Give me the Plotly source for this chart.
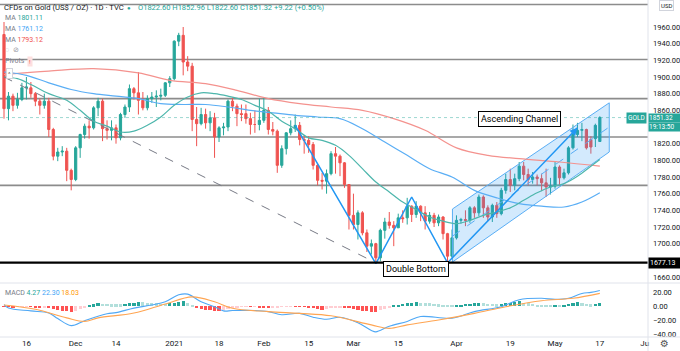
import plotly.graph_objects as go

# ---------------- data ----------------
tick_pos = [5, 16, 25, 38, 48, 58, 68, 78, 88, 101, 113, 123, 133, 143]
tick_text = ["16", "Dec", "14", "2021", "18", "Feb", "15", "Mar", "15", "Apr", "19", "May", "17", "Ju"]
price_ticks = [1660, 1700, 1720, 1740, 1760, 1780, 1800, 1820, 1860, 1880, 1900, 1920, 1940, 1960]
macd_ticks = [-40, -20, 0, 20]

opens = [1951, 1862, 1877, 1866, 1873, 1887, 1887, 1880, 1871, 1866,
         1871, 1837, 1805, 1810, 1811, 1788, 1777, 1815, 1831, 1841,
         1839, 1863, 1871, 1838, 1836, 1839, 1827, 1855, 1864, 1886,
         1881, 1872, 1863, 1874, 1876, 1877, 1878, 1893, 1898, 1943,
         1950, 1918, 1913, 1849, 1844, 1855, 1845, 1851, 1828, 1839,
         1840, 1871, 1865, 1856, 1856, 1850, 1843, 1843, 1848, 1860,
         1837, 1835, 1794, 1814, 1833, 1838, 1842, 1825, 1824, 1819,
         1794, 1776, 1775, 1784, 1808, 1805, 1797, 1771, 1734, 1723,
         1737, 1713, 1697, 1700, 1683, 1716, 1726, 1722, 1719, 1731,
         1731, 1745, 1735, 1745, 1737, 1727, 1734, 1725, 1732, 1712,
         1685, 1707, 1728, 1729, 1728, 1743, 1737, 1756, 1743, 1732,
         1746, 1736, 1764, 1777, 1770, 1778, 1793, 1783, 1777, 1780,
         1778, 1773, 1768, 1769, 1792, 1779, 1785, 1815, 1831, 1836,
         1837, 1825, 1826, 1822.60]
highs = [1966, 1882, 1880, 1881, 1893, 1900, 1894, 1882, 1874, 1880,
         1875, 1839, 1815, 1817, 1815, 1790, 1817, 1832, 1844, 1848,
         1865, 1875, 1874, 1848, 1848, 1843, 1857, 1867, 1891, 1888,
         1906, 1882, 1878, 1882, 1884, 1886, 1894, 1901, 1944, 1953,
         1960, 1925, 1917, 1864, 1863, 1862, 1859, 1857, 1841, 1845,
         1873, 1875, 1868, 1867, 1867, 1857, 1860, 1874, 1875, 1864,
         1846, 1837, 1818, 1834, 1848, 1855, 1846, 1830, 1829, 1822,
         1796, 1785, 1789, 1811, 1816, 1807, 1798, 1771, 1760, 1740,
         1739, 1717, 1705, 1701, 1718, 1731, 1738, 1727, 1736, 1740,
         1755, 1746, 1751, 1746, 1745, 1738, 1737, 1735, 1733, 1713,
         1717, 1734, 1731, 1740, 1745, 1745, 1759, 1758, 1746, 1748,
         1750, 1767, 1784, 1790, 1784, 1798, 1798, 1790, 1786, 1783,
         1784, 1790, 1779, 1799, 1794, 1790, 1817, 1843, 1845, 1845,
         1838, 1829, 1844, 1852.96]
lows = [1850, 1848, 1859, 1862, 1871, 1873, 1875, 1865, 1855, 1862,
        1828, 1800, 1799, 1805, 1775, 1764, 1775, 1803, 1826, 1826,
        1837, 1853, 1823, 1825, 1824, 1820, 1824, 1851, 1858, 1873,
        1855, 1860, 1860, 1869, 1864, 1872, 1876, 1888, 1896, 1937,
        1902, 1907, 1835, 1817, 1842, 1838, 1835, 1803, 1822, 1830,
        1835, 1859, 1841, 1847, 1844, 1831, 1833, 1836, 1845, 1831,
        1830, 1785, 1791, 1807, 1830, 1834, 1818, 1808, 1809, 1789,
        1770, 1765, 1760, 1782, 1784, 1781, 1767, 1717, 1717, 1705,
        1710, 1690, 1687, 1676, 1679, 1706, 1718, 1697, 1719, 1725,
        1723, 1726, 1731, 1727, 1717, 1724, 1720, 1721, 1705, 1677,
        1683, 1705, 1724, 1721, 1725, 1731, 1733, 1731, 1727, 1726,
        1731, 1734, 1760, 1762, 1764, 1775, 1776, 1770, 1772, 1770,
        1763, 1756, 1759, 1766, 1770, 1777, 1783, 1813, 1828, 1823,
        1813, 1808, 1816, 1822.60]
closes = [1862, 1877, 1866, 1873, 1887, 1888, 1880, 1871, 1866, 1871,
          1837, 1805, 1810, 1811, 1788, 1777, 1815, 1831, 1841, 1839,
          1863, 1871, 1838, 1836, 1839, 1827, 1855, 1864, 1886, 1881,
          1872, 1863, 1874, 1876, 1877, 1878, 1893, 1898, 1943, 1950,
          1918, 1913, 1849, 1844, 1855, 1845, 1851, 1828, 1839, 1840,
          1871, 1865, 1856, 1855, 1850, 1843, 1843, 1848, 1860, 1837,
          1835, 1794, 1814, 1833, 1838, 1842, 1825, 1824, 1819, 1794,
          1776, 1775, 1784, 1808, 1805, 1797, 1771, 1734, 1723, 1737,
          1713, 1697, 1700, 1683, 1716, 1726, 1722, 1719, 1731, 1730,
          1745, 1735, 1745, 1737, 1727, 1734, 1725, 1732, 1712, 1685,
          1707, 1728, 1729, 1728, 1743, 1737, 1756, 1743, 1732, 1746,
          1736, 1764, 1777, 1770, 1778, 1793, 1783, 1777, 1780, 1778,
          1773, 1768, 1769, 1792, 1779, 1785, 1815, 1831, 1836, 1837,
          1815, 1816, 1842, 1851.32]

ma_fast_idx = [0, 3, 6, 10, 14, 17, 20, 23, 26, 29, 32, 35, 38, 41, 44, 47, 50, 53, 56, 59, 62, 65,
               68, 71, 74, 77, 80, 83, 86, 89, 92, 95, 98, 101, 104, 107, 110, 113, 116, 119, 122,
               125, 128, 131, 133]
ma_fast = [1900, 1898, 1891, 1880, 1872, 1860, 1847, 1841, 1834, 1835, 1842, 1852, 1866, 1876, 1881,
           1880, 1877, 1873, 1866, 1859, 1847, 1838, 1827, 1824, 1818, 1806, 1790, 1774, 1762, 1750,
           1741, 1732, 1727, 1724, 1728, 1734, 1738, 1743, 1752, 1761, 1768, 1772, 1781, 1793, 1801.11]
ma_mid_idx = [0, 5, 10, 15, 20, 25, 30, 35, 40, 45, 50, 55, 60, 65, 70, 75, 80, 85, 90, 95, 100,
              105, 110, 115, 120, 125, 129, 133]
ma_mid = [1906, 1902, 1893, 1885, 1880, 1877, 1874, 1868, 1867, 1867, 1864, 1860, 1857, 1854, 1852,
          1850, 1838, 1822, 1806, 1790, 1780, 1764, 1755, 1748, 1745, 1744, 1750, 1761.12]
ma_slow_idx = [0, 10, 20, 30, 37, 45, 52, 59, 66, 73, 80, 87, 94, 101, 108, 115, 124, 133]
ma_slow = [1903, 1907, 1910, 1905, 1896, 1892, 1884, 1874, 1868, 1864, 1860, 1850, 1836, 1815, 1806,
           1802, 1798, 1793.12]

macd_idx = [0, 1, 6, 10, 12, 15, 18, 23, 25, 29, 33, 36, 39, 41, 44, 47, 49, 51, 56, 59, 62, 66, 69,
            72, 75, 79, 82, 83, 86, 90, 93, 100, 105, 111, 115, 120, 123, 126, 129, 131, 133]
macd_line = [2, -3, -7, -10, -18, -28, -21, -11, -9.5, -3, 1.5, 6, 16, 17, 6, -1, -7, -6.5, -6.5, -8,
             -12.5, -10.5, -16, -19, -16, -24, -35, -37, -29, -22, -15, -17.5, -8, -1, 9, 11, 9.5,
             11, 18, 19.5, 22.30]
signal_idx = [0, 7, 14, 18, 21, 29, 36, 42, 47, 51, 59, 66, 73, 82, 86, 90, 97, 105, 112, 120, 127, 133]
signal_line = [1.4, -4.7, -17, -22, -17, -10, 3, 13, 6, -3.3, -8, -10.5, -14, -27, -32, -27, -20,
               -10.5, -1, 7.6, 11, 18.03]
macd_hist = [-0.5, -1.0, -1.5, -1.2, -0.8, -0.6, -1.0, -1.5, -1.8, -1.5,
             -3, -4.5, -5.5, -6.5, -7.5, -8.5, -7, -4.5, -2, 1,
             2.5, 4, 3.5, 3, 2.8, 2.5, 2.3, 3, 4, 5,
             6, 5.5, 5, 4.5, 4, 3.5, 3.2, 4, 5, 6,
             6.5, 4, 1, -2, -4, -5, -6, -6.5, -7, -5.5,
             -4, -2.5, -1.5, -0.8, -0.5, -0.5, -0.3, -1.5, -2, -2.5,
             -2, -1.5, -1, -0.8, -0.5, -0.5, -0.8, -1.2, -1.8, -2.5,
             -3.8, -5, -4, -3, -2, -1.5, -2, -3, -4, -5,
             -6.5, -7.5, -8, -8.5, -6, -4, -2, 1, 2, 3,
             4, 5, 5.5, 5, 4.5, 4, 3.5, 2.5, 1.8, 1.0,
             0.5, 1, 2, 3, 3.5, 4, 4.5, 4, 3.5, 3,
             2.5, 3, 4, 5, 6, 6.5, 5, 4, 3, 2,
             1.5, 1, 0.5, 1, 0.5, 0.8, 3, 5, 5.5, 5,
             3, 2.5, 3.5, 4.27]

levels = [1987, 1921, 1874, 1828, 1770]
support_level = 1677.13
last_price = 1851.32

trend_x = [0, 83]
trend_y = [1900, 1677]
zigzag_x = [65, 83, 91, 99, 128]
zigzag_y = [1842, 1676, 1756, 1677, 1839]
channel_x = [100.1, 100.1, 135.1, 135.1, 100.1]
channel_y = [1678, 1741.6, 1869, 1810, 1678]
channel_mid_x = [100.1, 135.1]
channel_mid_y = [1709, 1840]

# ---------------- figure ----------------
UP = "#26A69A"
DOWN = "#EF5350"
idx = list(range(len(closes)))

fig = go.Figure()

fig.add_trace(go.Scatter(x=channel_x, y=channel_y, fill="toself", fillcolor="rgba(33,150,243,0.20)",
                         mode="lines", line=dict(color="#5AAEF5", width=1), hoverinfo="skip"))
fig.add_trace(go.Scatter(x=channel_mid_x, y=channel_mid_y, mode="lines",
                         line=dict(color="#5AAEF5", width=1, dash="dash"), hoverinfo="skip"))

fig.add_trace(go.Scatter(x=ma_slow_idx, y=ma_slow, mode="lines", line=dict(color="#F4928E", width=1.2, shape="spline"),
                         hoverinfo="skip"))
fig.add_trace(go.Scatter(x=ma_mid_idx, y=ma_mid, mode="lines", line=dict(color="#5AAEF5", width=1.2, shape="spline"),
                         hoverinfo="skip"))
fig.add_trace(go.Scatter(x=ma_fast_idx, y=ma_fast, mode="lines", line=dict(color="#4DB6AC", width=1.2, shape="spline"),
                         hoverinfo="skip"))

fig.add_trace(go.Scatter(x=trend_x, y=trend_y, mode="lines",
                         line=dict(color="#787B86", width=1, dash="dash"), hoverinfo="skip"))

fig.add_trace(go.Candlestick(x=idx, open=opens, high=highs, low=lows, close=closes,
                             increasing=dict(line=dict(color=UP, width=1), fillcolor=UP),
                             decreasing=dict(line=dict(color=DOWN, width=1), fillcolor=DOWN),
                             whiskerwidth=0, hoverinfo="skip"))

fig.add_trace(go.Scatter(x=zigzag_x, y=zigzag_y, mode="lines", line=dict(color="#2196F3", width=1.5),
                         hoverinfo="skip"))

# MACD pane
hist_colors = []
for i, v in enumerate(macd_hist):
    prev = macd_hist[i - 1] if i > 0 else v
    if v >= 0:
        hist_colors.append("#26A69A" if v >= prev else "#B2DFDB")
    else:
        hist_colors.append("#FF5252" if v <= prev else "#FFCDD2")
fig.add_trace(go.Bar(x=idx, y=macd_hist, marker=dict(color=hist_colors, line=dict(width=0)), width=0.72,
                     xaxis="x2", yaxis="y2", hoverinfo="skip"))
fig.add_trace(go.Scatter(x=macd_idx, y=macd_line, mode="lines", line=dict(color="#4FA8F5", width=1.1, shape="spline"),
                         xaxis="x2", yaxis="y2", hoverinfo="skip"))
fig.add_trace(go.Scatter(x=signal_idx, y=signal_line, mode="lines", line=dict(color="#FFA552", width=1.1, shape="spline"),
                         xaxis="x2", yaxis="y2", hoverinfo="skip"))

PLOT_W, PLOT_H = 648.0, 337.0
SPLIT = (337 - 283) / PLOT_H


def px(X, Y):
    return X / PLOT_W, 1 - Y / PLOT_H


shapes = []
for lv in levels:
    shapes.append(dict(type="line", xref="paper", yref="y", x0=0, x1=1, y0=lv, y1=lv,
                       line=dict(color="#8C8C8C", width=1.6), layer="below"))
shapes.append(dict(type="line", xref="paper", yref="y", x0=0, x1=1, y0=last_price, y1=last_price,
                   line=dict(color="rgba(38,166,154,0.45)", width=1, dash="dot")))
shapes.append(dict(type="line", xref="paper", yref="y", x0=0, x1=1, y0=support_level, y1=support_level,
                   line=dict(color="#000000", width=2.2)))
shapes.append(dict(type="line", xref="paper", yref="paper", x0=0, x1=680 / PLOT_W, y0=SPLIT, y1=SPLIT,
                   line=dict(color="#E0E3EB", width=1)))
shapes.append(dict(type="line", xref="paper", yref="paper", x0=0, x1=680 / PLOT_W, y0=0, y1=0,
                   line=dict(color="#E0E3EB", width=1)))
shapes.append(dict(type="line", xref="paper", yref="paper", x0=1, x1=1, y0=-14 / PLOT_H, y1=1,
                   line=dict(color="#E0E3EB", width=1)))

F = "Roboto, Arial, sans-serif"
ann = []


def text_at(X, Y, txt, size=7.5, color="#131722", **kw):
    x, y = px(X, Y)
    d = dict(xref="paper", yref="paper", x=x, y=y, text=txt, showarrow=False, xanchor="left",
             yanchor="middle", font=dict(family=F, size=size, color=color))
    d.update(kw)
    ann.append(d)


text_at(2, 7, "CFDs on Gold (US$ / OZ) · 1D · TVC", 7.7)
text_at(125, 7, "●", 6, "#26A69A")
text_at(136, 7, "O1822.60 H1852.96 L1822.60 C1851.32 +9.22 (+0.50%)", 7.5, "#26A69A")
text_at(3, 18, 'MA <span style="color:#26A69A">1801.11</span>', 7, "#787B86")
text_at(3, 29, 'MA <span style="color:#42A5F5">1761.12</span>', 7, "#787B86")
text_at(3, 40, 'MA <span style="color:#EF5350">1793.12</span>', 7, "#787B86")
text_at(3, 50, "◌  ⊘", 7, "#9598A1")
text_at(3, 61, "Pivots", 7, "#787B86")
text_at(27, 61, "!", 6, "#F44336", bgcolor="#FDE0DF", borderpad=1)
text_at(6, 73, "^", 6, "#555555", bgcolor="#FFFFFF", bordercolor="#D1D4DC", borderwidth=1, borderpad=1)
text_at(3, 293, 'MACD <span style="color:#26A69A">4.27</span> <span style="color:#42A5F5">22.30</span> '
                '<span style="color:#FF9800">18.03</span>', 7, "#787B86")

# price tags (pixel-anchored on the price scale)
ann.append(dict(xref="paper", yref="y", x=647 / PLOT_W, y=last_price, text="GOLD", showarrow=False,
                xanchor="right", yanchor="middle", bgcolor=UP, borderpad=1, yshift=0,
                font=dict(family=F, size=6.5, color="white")))
ann.append(dict(xref="paper", yref="y", x=1, y=last_price, text="1851.32", showarrow=False,
                xanchor="left", yanchor="middle", bgcolor=UP, borderpad=0, width=31, align="left",
                font=dict(family=F, size=6.5, color="white")))
ann.append(dict(xref="paper", yref="y", x=1, y=last_price, text="19:13:50", showarrow=False,
                xanchor="left", yanchor="top", bgcolor=UP, borderpad=0, width=31, align="left", yshift=-4.4,
                font=dict(family=F, size=6.5, color="white")))
ann.append(dict(xref="paper", yref="y", x=1, y=support_level, text="1677.13", showarrow=False,
                xanchor="left", yanchor="middle", bgcolor="#000000", borderpad=1, width=30, align="left",
                font=dict(family=F, size=7, color="white")))
ux, uy = px(659, 6)
ann.append(dict(xref="paper", yref="paper", x=ux, y=uy, text="USD", showarrow=False, xanchor="left",
                yanchor="middle", bgcolor="white", bordercolor="#D1D4DC", borderwidth=1, borderpad=1,
                font=dict(family=F, size=6, color="#131722")))
gx, gy = px(664, 343)
ann.append(dict(xref="paper", yref="paper", x=gx, y=gy, text="⚙", showarrow=False, xanchor="center",
                yanchor="middle", font=dict(family="DejaVu Sans", size=10, color="#555555")))

# drawing labels
ann.append(dict(xref="x", yref="y", x=115, y=1849.6, text="Ascending Channel", showarrow=False,
                bgcolor="white", bordercolor="#000000", borderwidth=1, borderpad=2,
                font=dict(family=F, size=9, color="#000000")))
ann.append(dict(xref="x", yref="y", x=92, y=1669.6, text="Double Bottom", showarrow=False,
                bgcolor="white", bordercolor="#000000", borderwidth=1, borderpad=2,
                font=dict(family=F, size=9, color="#000000")))
ann.append(dict(xref="x", yref="y", axref="x", ayref="y", x=zigzag_x[-1], y=zigzag_y[-1],
                ax=zigzag_x[-1] - 1.2, ay=zigzag_y[-1] - 7, text="", showarrow=True, arrowhead=2,
                arrowsize=1, arrowwidth=1.5, arrowcolor="#2196F3"))

fig.update_layout(
    width=680, height=351, margin=dict(l=0, r=32, t=0, b=14),
    paper_bgcolor="white", plot_bgcolor="white", showlegend=False,
    font=dict(family=F, size=8, color="#131722"),
    shapes=shapes, annotations=ann, bargap=0,
    xaxis=dict(domain=[0, 1], range=[-0.893, 143.75], anchor="y", matches="x2", showticklabels=False,
               showgrid=False, zeroline=False, rangeslider=dict(visible=False), fixedrange=True),
    xaxis2=dict(domain=[0, 1], range=[-0.893, 143.75], anchor="y2", tickmode="array", tickvals=tick_pos,
                ticktext=tick_text, showgrid=False, zeroline=False, ticks="",
                tickfont=dict(family=F, size=8, color="#131722"), rangeslider=dict(visible=False)),
    yaxis=dict(domain=[SPLIT, 1], range=[1652.8, 1992.4], side="right", anchor="x", tickmode="array",
               tickvals=price_ticks, tickformat=".2f", showgrid=False, zeroline=False,
               ticks="", ticklabelstandoff=4, tickfont=dict(family=F, size=7.5, color="#131722")),
    yaxis2=dict(domain=[0, SPLIT], range=[-44.3, 32.9], side="right", anchor="x2", tickmode="array",
                tickvals=macd_ticks, tickformat=".2f", showgrid=False, zeroline=False, ticks="",
                ticklabelstandoff=4, tickfont=dict(family=F, size=7.5, color="#131722")),
)

fig.write_html("out.html")
